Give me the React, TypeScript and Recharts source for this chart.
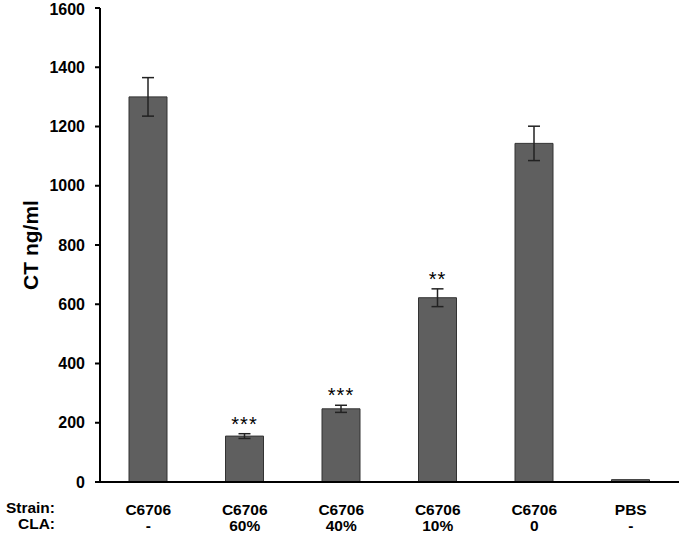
import React from 'react'
import { BarChart, Bar, XAxis, YAxis, ErrorBar, LabelList, Label } from 'recharts'

const strains = ['C6706', 'C6706', 'C6706', 'C6706', 'C6706', 'PBS']
const claLevels = ['-', '60%', '40%', '10%', '0', '-']
const ctValues = [1300, 155, 247, 622, 1143, 8]
const ctErrors = [65, 8, 12, 30, 58, 0]
const stars = ['', '***', '***', '**', '', '']
const yTicks = [0, 200, 400, 600, 800, 1000, 1200, 1400, 1600]
const rowTitles = ['Strain:', 'CLA:']

const data = strains.map((s, i) => ({
  key: String(i),
  strain: s,
  cla: claLevels[i],
  ct: ctValues[i],
  err: ctErrors[i],
  stars: stars[i],
}))

const FONT = 'Liberation Sans, Arial, sans-serif'

const CategoryTick = (props: any) => {
  const { x, y, payload } = props
  const d = data[payload.index] || data[Number(payload.value)]
  return (
    <g>
      <text x={x} y={y + 31} textAnchor="middle" fontFamily={FONT} fontWeight="bold" fontSize={15.5} fill="#000">
        {d.strain}
      </text>
      <text x={x} y={y + 47} textAnchor="middle" fontFamily={FONT} fontWeight="bold" fontSize={15.5} fill="#000">
        {d.cla}
      </text>
    </g>
  )
}

// stars sit above the error bar, offset by the error in pixels
const StarLabel = (props: any) => {
  const { x, y, width, height, index } = props
  const d = data[index]
  if (!d || !d.stars) return null
  const pxPerUnit = d.ct ? height / d.ct : 0
  const top = y - d.err * pxPerUnit
  return (
    <text x={x + width / 2} y={top - 3} textAnchor="middle" fontFamily={FONT} fontSize={20} letterSpacing={1} fill="#000">
      {d.stars}
    </text>
  )
}

const YTitle = (props: any) => {
  const vb = props.viewBox
  const cx = vb.x + 30
  const cy = vb.y + vb.height / 2
  return (
    <text x={cx} y={cy} transform={`rotate(-90 ${cx} ${cy})`} textAnchor="middle" dominantBaseline="central"
      fontFamily={FONT} fontWeight="bold" fontSize={21} fill="#000">
      CT ng/ml
    </text>
  )
}

export default function App() {
  return (
    <div style={{ position: 'absolute', left: 0, top: 0, width: 680, height: 535, background: '#fff' }}>
      <BarChart width={680} height={535} data={data} margin={{ top: 8, right: 1, bottom: 0, left: 0 }} barCategoryGap={0}>
        <XAxis
          dataKey="key"
          axisLine={{ stroke: '#000', strokeWidth: 2 }}
          tickLine={false}
          tickSize={0}
          height={53}
          tick={<CategoryTick />}
          interval={0}
        />
        <YAxis
          domain={[0, 1600]}
          ticks={yTicks}
          width={100}
          axisLine={{ stroke: '#000', strokeWidth: 2 }}
          tickLine={{ stroke: '#000', strokeWidth: 2 }}
          tickSize={5}
          tickMargin={10}
          tick={{ fontFamily: FONT, fontWeight: 'bold', fontSize: 16, fill: '#000' }}
        >
          <Label content={<YTitle />} />
        </YAxis>
        <Bar dataKey="ct" fill="#5f5f5f" stroke="#333" strokeWidth={1} barSize={38} isAnimationActive={false}>
          <ErrorBar dataKey="err" width={6} stroke="#222" strokeWidth={1.5} />
          <LabelList dataKey="stars" content={<StarLabel />} />
        </Bar>
      </BarChart>
      <svg width={70} height={50} style={{ position: 'absolute', left: 0, top: 485 }}>
        {rowTitles.map((t, i) => (
          <text key={t} x={55} y={28 + i * 16} textAnchor="end" fontFamily={FONT} fontWeight="bold" fontSize={15.5} fill="#000">
            {t}
          </text>
        ))}
      </svg>
    </div>
  )
}
